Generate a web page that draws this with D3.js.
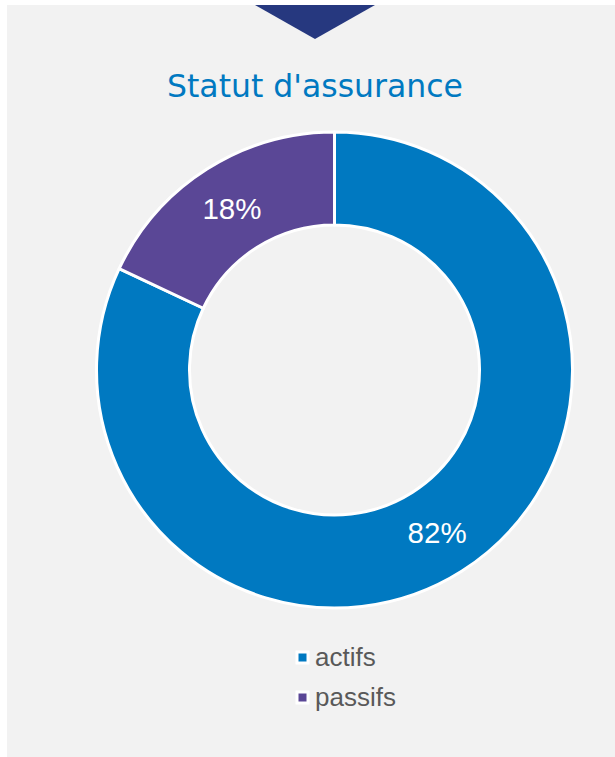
<!DOCTYPE html>
<html>
<head>
<meta charset="utf-8">
<script src="https://cdn.jsdelivr.net/npm/d3@7"></script>
<style>
  html, body { margin: 0; padding: 0; background: #ffffff; }
  svg { display: block; }
</style>
</head>
<body>
<svg id="chart" width="615" height="757"></svg>
<script>
const title = "Statut d'assurance";
const categories = ["actifs", "passifs"];
const values = [82, 18];
const labels = ["82%", "18%"];
const colors = ["#0079c1", "#5a4796"];

const svg = d3.select("#chart");
const W = 615, H = 757;

// panel
svg.append("rect").attr("x", 7).attr("y", 5).attr("width", W - 7).attr("height", H - 5)
  .attr("fill", "#f2f2f2");

// top triangle marker
svg.append("path")
  .attr("d", d3.line()([[255, 5], [375, 5], [315, 39]]) + "Z")
  .attr("fill", "#26387f");

// title
svg.append("text")
  .attr("x", 315).attr("y", 97)
  .attr("text-anchor", "middle")
  .attr("font-family", "DejaVu Sans, Verdana, sans-serif")
  .attr("font-size", 31.5)
  .attr("fill", "#0079c1")
  .text(title);

const cx = 334.5, cy = 370, R = 238, r = 145;
const data = categories.map((c, i) => ({ cat: c, value: values[i], label: labels[i], color: colors[i] }));
const pie = d3.pie().sort(null).value(d => d.value);
const arc = d3.arc().innerRadius(r).outerRadius(R);
const g = svg.append("g").attr("transform", `translate(${cx},${cy})`);
const arcs = pie(data);

g.selectAll("path.slice").data(arcs).enter().append("path")
  .attr("class", "slice")
  .attr("d", arc)
  .attr("fill", d => d.data.color)
  .attr("stroke", "#ffffff")
  .attr("stroke-width", 3)
  .attr("stroke-linejoin", "round");

g.selectAll("text.lbl").data(arcs).enter().append("text")
  .attr("class", "lbl")
  .attr("x", d => arc.centroid(d)[0])
  .attr("y", d => arc.centroid(d)[1] + 11)
  .attr("text-anchor", "middle")
  .attr("font-family", "Liberation Sans, Arial, sans-serif")
  .attr("font-size", 29.5)
  .attr("fill", "#ffffff")
  .text(d => d.data.label);

// legend
const lg = svg.append("g");
const item = lg.selectAll("g").data(data).enter().append("g")
  .attr("transform", (d, i) => `translate(297, ${652 + i * 40})`);
item.append("rect")
  .attr("width", 11).attr("height", 11)
  .attr("fill", d => d.color)
  .attr("stroke", "#ffffff").attr("stroke-width", 3);
item.append("text")
  .attr("x", 18).attr("y", 13.5)
  .attr("font-family", "Liberation Sans, Arial, sans-serif")
  .attr("font-size", 26)
  .attr("fill", "#595959")
  .text(d => d.cat);
</script>
</body>
</html>
